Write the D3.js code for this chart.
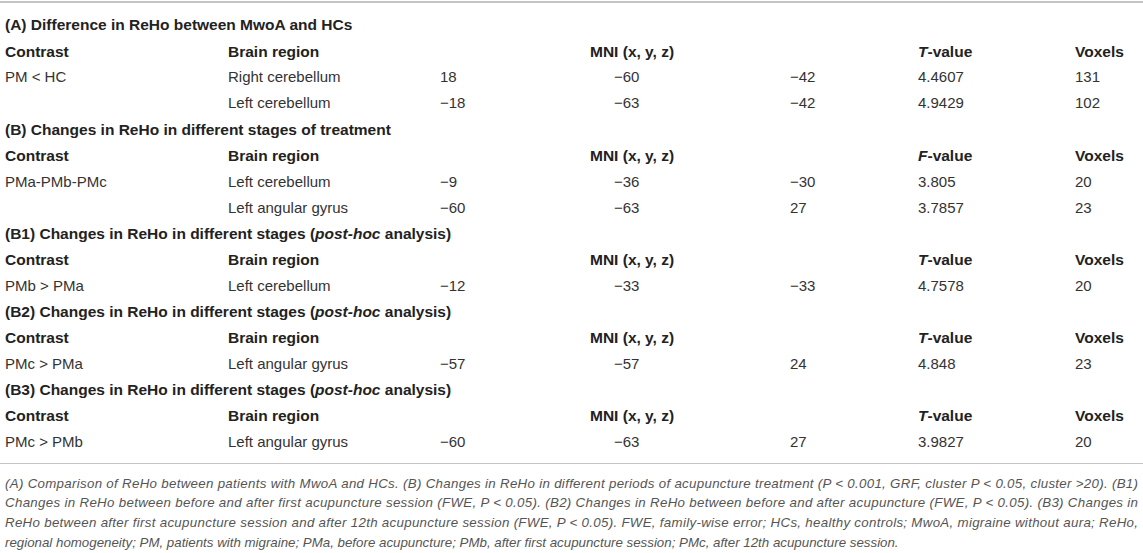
<!DOCTYPE html>
<html>
<head>
<meta charset="utf-8">
<script src="https://cdn.jsdelivr.net/npm/d3@7"></script>
<style>
  body { margin: 0; background: #fff; }
  text { font-family: "Liberation Sans", Arial, Helvetica, sans-serif; }
</style>
</head>
<body>
<div id="table_canvas"></div>
<script>
const outerWidth = 1143;
const outerHeight = 553;

// table content
const sectionTitles = [
  [["(A) Difference in ReHo between MwoA and HCs", false]],
  [["(B) Changes in ReHo in different stages of treatment", false]],
  [["(B1) Changes in ReHo in different stages (", false], ["post-hoc", true], [" analysis)", false]],
  [["(B2) Changes in ReHo in different stages (", false], ["post-hoc", true], [" analysis)", false]],
  [["(B3) Changes in ReHo in different stages (", false], ["post-hoc", true], [" analysis)", false]]
];
const statLetters = ["T", "F", "T", "T", "T"];
const rowSection = [0, 0, 1, 1, 2, 3, 4];
const contrasts = ["PM < HC", "", "PMa-PMb-PMc", "", "PMb > PMa", "PMc > PMa", "PMc > PMb"];
const regions = ["Right cerebellum", "Left cerebellum", "Left cerebellum", "Left angular gyrus",
                 "Left cerebellum", "Left angular gyrus", "Left angular gyrus"];
const mniX = [18, -18, -9, -60, -12, -57, -60];
const mniY = [-60, -63, -36, -63, -33, -57, -63];
const mniZ = [-42, -42, -30, 27, -33, 24, 27];
const statValues = ["4.4607", "4.9429", "3.805", "3.7857", "4.7578", "4.848", "3.9827"];
const voxels = [131, 102, 20, 23, 20, 23, 20];

const footnoteLines = [
  "(A) Comparison of ReHo between patients with MwoA and HCs. (B) Changes in ReHo in different periods of acupuncture treatment (P < 0.001, GRF, cluster P < 0.05, cluster >20). (B1)",
  "Changes in ReHo between before and after first acupuncture session (FWE, P < 0.05). (B2) Changes in ReHo between before and after acupuncture (FWE, P < 0.05). (B3) Changes in",
  "ReHo between after first acupuncture session and after 12th acupuncture session (FWE, P < 0.05). FWE, family-wise error; HCs, healthy controls; MwoA, migraine without aura; ReHo,",
  "regional homogeneity; PM, patients with migraine; PMa, before acupuncture; PMb, after first acupuncture session; PMc, after 12th acupuncture session."
];

const columns = ["contrast", "region", "x", "y", "z", "stat", "voxels"];

const svg = d3.select("#table_canvas").append("svg")
    .attr("width", outerWidth)
    .attr("height", outerHeight)
    .attr("viewBox", [0, 0, outerWidth, outerHeight]);

// build the list of lines: title, header, then data rows, per section
const lines = [];
sectionTitles.forEach((t, s) => {
  lines.push({type: "title", section: s});
  lines.push({type: "header", section: s});
  rowSection.forEach((rs, i) => { if (rs === s) lines.push({type: "row", index: i}); });
});

const yScale = d3.scalePoint()
    .domain(d3.range(lines.length))
    .range([25, 442]);

const xScale = d3.scaleOrdinal()
    .domain(columns)
    .range([5, 228, 440, 614, 790, 918, 1075]);

const fmt = d3.format("d");

// top rule
svg.append("line")
    .attr("x1", 0).attr("x2", outerWidth)
    .attr("y1", 2).attr("y2", 2)
    .attr("stroke", "#c4c4c4")
    .attr("stroke-width", 2);

const g = svg.append("g")
    .attr("font-size", 15)
    .attr("fill", "#333");

const line = g.selectAll("g.line")
    .data(lines)
    .join("g")
    .attr("class", "line")
    .attr("transform", (d, i) => `translate(0,${yScale(i)})`);

// section titles
line.filter(d => d.type === "title")
  .append("text")
    .attr("x", xScale("contrast"))
    .attr("dy", "0.35em")
    .attr("font-weight", "bold")
    .attr("font-size", 15.5)
    .attr("fill", "#222")
  .selectAll("tspan")
  .data(d => sectionTitles[d.section])
  .join("tspan")
    .attr("font-style", d => d[1] ? "italic" : null)
    .text(d => d[0]);

// headers
const header = line.filter(d => d.type === "header");
const headerCells = [
  ["contrast", d => [["Contrast", false]]],
  ["region", d => [["Brain region", false]]],
  ["y", d => [["MNI (x, y, z)", false]]],
  ["stat", d => [[statLetters[d.section], true], ["-value", false]]],
  ["voxels", d => [["Voxels", false]]]
];
headerCells.forEach(([col, parts]) => {
  header.append("text")
      .attr("x", col === "y" ? xScale(col) - 24 : xScale(col))
      .attr("dy", "0.35em")
      .attr("font-weight", "bold")
      .attr("font-size", 15.5)
      .attr("fill", "#222")
    .selectAll("tspan")
    .data(parts)
    .join("tspan")
      .attr("font-style", p => p[1] ? "italic" : null)
      .text(p => p[0]);
});

// data rows
const rows = line.filter(d => d.type === "row");
const cellValue = {
  contrast: i => contrasts[i],
  region: i => regions[i],
  x: i => fmt(mniX[i]),
  y: i => fmt(mniY[i]),
  z: i => fmt(mniZ[i]),
  stat: i => statValues[i],
  voxels: i => voxels[i]
};
columns.forEach(col => {
  rows.append("text")
      .attr("x", xScale(col))
      .attr("dy", "0.35em")
      .text(d => cellValue[col](d.index));
});

// bottom rule
svg.append("line")
    .attr("x1", 0).attr("x2", outerWidth)
    .attr("y1", 463.5).attr("y2", 463.5)
    .attr("stroke", "#c4c4c4")
    .attr("stroke-width", 1);

// footnote, justified except for the last line
const footY = d3.scalePoint()
    .domain(d3.range(footnoteLines.length))
    .range([483, 542]);

svg.append("g")
    .attr("font-size", 13.3)
    .attr("font-style", "italic")
    .attr("fill", "#555")
  .selectAll("text")
  .data(footnoteLines)
  .join("text")
    .attr("x", 5)
    .attr("y", (d, i) => footY(i))
    .attr("dy", "0.35em")
    .attr("textLength", (d, i) => i < footnoteLines.length - 1 ? 1133 : null)
    .attr("lengthAdjust", "spacing")
    .text(d => d);
</script>
</body>
</html>
